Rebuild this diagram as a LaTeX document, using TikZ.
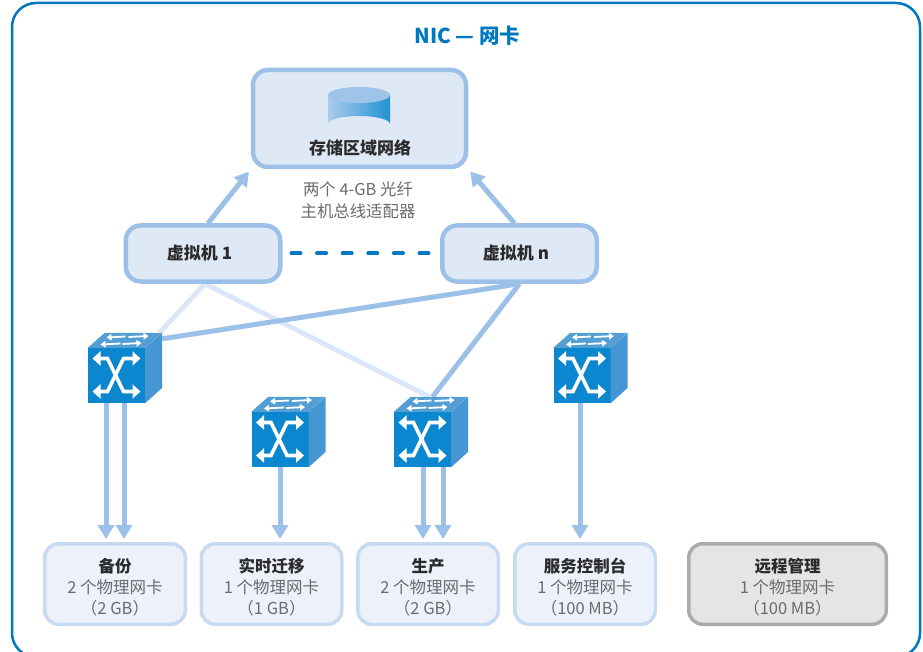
\documentclass[tikz,border=0pt]{standalone}
\usepackage{fontspec}
\setmainfont{Noto Sans CJK SC}
\usetikzlibrary{arrows.meta,backgrounds}
\definecolor{hpblue}{HTML}{0078C1}
\definecolor{linkblue}{HTML}{9BC1E8}
\definecolor{lightlink}{HTML}{DBE7F5}
\definecolor{paleborder}{HTML}{C6DAF2}
\definecolor{vmfill}{HTML}{DFE9F6}
\definecolor{palefill}{HTML}{EDF2FA}
\definecolor{facecol}{HTML}{0A87CE}
\definecolor{sidecol}{HTML}{4596D3}
\definecolor{greytext}{HTML}{6A6B6D}
\definecolor{darktext}{HTML}{2B2B2D}
\tikzset{
	vmbox/.style={draw=linkblue,fill=vmfill,line width=4.5pt,rounded corners=15pt,minimum width=154.5pt,minimum height=56pt,font=\fontsize{17}{20}\selectfont\bfseries,text=darktext},
	nicbox/.style={draw=paleborder,fill=palefill,line width=3.5pt,rounded corners=14pt,minimum width=140.5pt,minimum height=80.5pt,align=center,inner sep=0pt,font=\fontsize{16.5}{21.2}\selectfont,text=greytext},
	mgmtbox/.style={nicbox,draw=black!33,fill=black!10,minimum width=197.5pt},
	link/.style={draw=linkblue,line width=5pt},
	arrowlink/.style={link,-{Triangle[length=14pt,width=16pt]},shorten >=3pt},
	switchface/.style={fill=facecol,minimum width=57pt,minimum height=55pt,inner sep=0pt},
	xarrow/.style={draw=white,line width=3.6pt,{Triangle[length=8pt,width=14pt]}-{Triangle[length=8pt,width=14pt]}},
	toparrow/.style={draw=white,line width=1.8pt,-{Triangle[length=5pt,width=6.5pt]}}
}
\newcommand{\netswitch}[3]{
	\node (#1) [switchface] at (#2,#3) {};
	\fill [sidecol] (#1.north east) -- ++(17,-15) -- ++(0,55) -- (#1.south east) -- cycle;
	\fill [sidecol!92!white] (#1.north west) -- ++(17,-15) -- ++(57,0) -- (#1.north east) -- cycle;
	\coordinate (#1back) at ([shift={(17,-15)}]#1.north);
	\coordinate (#1corner) at ([shift={(17,-15)}]#1.north east);
	\begin{scope}[shift={(#1.center)}]
		\draw [xarrow] (-24,-17) -- (-9,-17) -- (7,16) -- (24,16);
		\draw [xarrow] (-24,16) -- (-9,16) -- (7,-17) -- (24,-17);
		\draw [toparrow] (9,-39) -- (-10,-38);
		\draw [toparrow] (12,-38.5) -- (32,-39.5);
		\draw [toparrow] (4,-32) -- (-16,-31);
		\draw [toparrow] (6,-31.5) -- (25,-32.5);
	\end{scope}
}
\newcommand{\nicname}[1]{\rule{0pt}{20pt}\textbf{\color{darktext}#1}}
\begin{document}
\begin{tikzpicture}[x=1pt,y=-1pt]
	\useasboundingbox (0,0) rectangle (923,652);
	\draw [hpblue,line width=2.5pt,rounded corners=24pt] (12,3) rectangle (920,657);
	\node (title) at (467.5,36) {\fontsize{20.5}{24}\selectfont\bfseries\color{hpblue}NIC — 网卡};
	\node (san) [vmbox,minimum width=213pt,minimum height=97pt] at (359.5,118.5) {};
	\shade [left color=linkblue!85,right color=facecol!90!white] (328,95) -- (390,95) -- (390,124) arc [start angle=0,end angle=180,x radius=31,y radius=-8] -- cycle;
	\fill [linkblue!95] (359,95) ellipse [x radius=31,y radius=8];
	\node (sanlabel) at (360,148) {\fontsize{17}{20}\selectfont\bfseries\color{darktext}存储区域网络};
	\node (hba) [align=center,text=greytext,font=\fontsize{16.4}{22}\selectfont] at (358,200.5) {两个 4-GB 光纤\\主机总线适配器};
	\node (vma) [vmbox] at (203,253.5) {虚拟机 1\hspace*{7pt}};
	\node (vmb) [vmbox] at (519.5,253.5) {虚拟机 n\hspace*{7pt}};
	\netswitch{swa}{116.5}{375.5}
	\netswitch{swb}{280}{439.5}
	\netswitch{swc}{422.5}{439.5}
	\netswitch{swd}{582}{375.5}
	\node (backup) [nicbox] at (115,584) {\nicname{备份}\\2 个物理网卡\\（2 GB）};
	\node (migrate) [nicbox] at (271.5,584) {\nicname{实时迁移}\\1 个物理网卡\\（1 GB）};
	\node (prod) [nicbox] at (428,584) {\nicname{生产}\\2 个物理网卡\\（2 GB）};
	\node (console) [nicbox] at (585,584) {\nicname{服务控制台}\\1 个物理网卡\\（100 MB）};
	\node (mgmt) [mgmtbox] at (787.5,584) {\nicname{远程管理}\\1 个物理网卡\\（100 MB）};
	\begin{pgfonlayer}{background}
		\draw [link,lightlink] ([xshift=2]vma.south) -- ([xshift=26]swaback);
		\draw [link,lightlink] ([xshift=2]vma.south) -- ([xshift=-10]swcback);
		\draw [link] (vmb.south) -- ([yshift=-6]swacorner);
		\draw [link] (vmb.south) -- ([xshift=-7]swcback);
	\end{pgfonlayer}
	\draw [arrowlink] ([xshift=5]vma.north) -- (san.south west);
	\draw [arrowlink] ([xshift=-5]vmb.north) -- (san.south east);
	\draw [hpblue,line width=4pt,line cap=round,dash pattern=on 9pt off 16.6pt] ([xshift=9]vma.east) -- ([xshift=-11]vmb.west);
	\draw [arrowlink] ([xshift=-10.5]swa.south) -- ([xshift=-9]backup.north);
	\draw [arrowlink] ([xshift=7.5]swa.south) -- ([xshift=9]backup.north);
	\draw [arrowlink] (swb.south) -- ([xshift=8.5]migrate.north);
	\draw [arrowlink] ([xshift=0.5]swc.south) -- ([xshift=-5]prod.north);
	\draw [arrowlink] ([xshift=20.5]swc.south) -- ([xshift=15]prod.north);
	\draw [arrowlink] ([xshift=-2]swd.south) -- ([xshift=-5]console.north);
\end{tikzpicture}
\end{document}
